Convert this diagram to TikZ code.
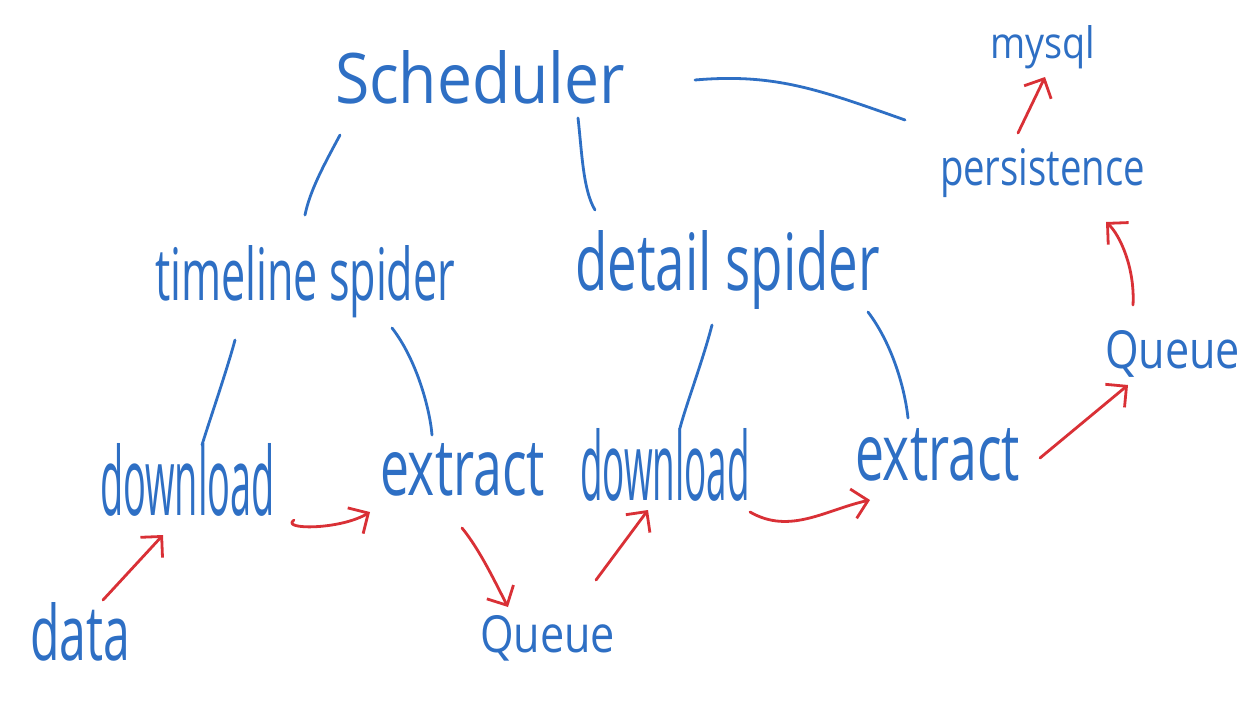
\documentclass[tikz,border=0pt]{standalone}
\usepackage{fontspec}
\setmainfont{Open Sans}
\usetikzlibrary{arrows.meta}
\definecolor{inkblue}{HTML}{2E6FC4}
\definecolor{inkred}{HTML}{D93036}
\tikzset{
  word/.style={anchor=base west, inner sep=0pt, outer sep=0pt, text=inkblue},
  link/.style={draw=inkblue, line width=2.8pt, line cap=round},
  flow/.style={draw=inkred, line width=2.8pt, line cap=round, line join=round,
    -{Straight Barb[length=15pt,width=30pt,line width=2.8pt]}},
}
\newcommand{\hw}[3]{\resizebox{#1pt}{#2pt}{#3}}
\begin{document}
\begin{tikzpicture}[x=1pt,y=-1pt]
\useasboundingbox[fill=white] (0,0) rectangle (1246,707);
% nodes
\node[word] (sched) at (335,103) {\hw{290}{53}{Scheduler}};
\node[word] (mysql) at (990,58) {\hw{105}{33}{mysql}};
\node[word] (pers) at (940,185) {\hw{205}{37}{persistence}};
\node[word] (tl) at (155,300) {\hw{300}{55}{timeline spider}};
\node[word] (ds) at (575,290) {\hw{305}{60}{detail spider}};
\node[word] (q2) at (1105,368) {\hw{135}{38}{Queue}};
\node[word] (dl1) at (100,515) {\hw{175}{72}{download}};
\node[word] (ex1) at (380,495) {\hw{165}{52}{extract}};
\node[word] (dl2) at (580,500) {\hw{170}{72}{download}};
\node[word] (ex2) at (855,480) {\hw{165}{52}{extract}};
\node[word] (data) at (30,660) {\hw{100}{58}{data}};
\node[word] (q1) at (480,652) {\hw{135}{37}{Queue}};
% blue links
\draw[link] ([shift={(5,32)}]sched.base west) .. controls ([shift={(-10,60)}]sched.base west) and ([shift={(155,-110)}]tl.base west) .. ([shift={(150,-85)}]tl.base west);
\draw[link] ([shift={(243,15)}]sched.base west) .. controls ([shift={(247,50)}]sched.base west) and ([shift={(8,-100)}]ds.base west) .. ([shift={(20,-80)}]ds.base west);
\draw[link] ([shift={(360,-23)}]sched.base west) .. controls ([shift={(440,-30)}]sched.base west) and ([shift={(-120,-95)}]pers.base west) .. ([shift={(-35,-65)}]pers.base west);
\draw[link] ([shift={(80,40)}]tl.base west) .. controls ([shift={(72,70)}]tl.base west) and ([shift={(108,-90)}]dl1.base west) .. ([shift={(102,-70)}]dl1.base west);
\draw[link] ([shift={(237,28)}]tl.base west) .. controls ([shift={(262,60)}]tl.base west) and ([shift={(50,-85)}]ex1.base west) .. ([shift={(52,-60)}]ex1.base west);
\draw[link] ([shift={(137,35)}]ds.base west) .. controls ([shift={(128,70)}]ds.base west) and ([shift={(106,-95)}]dl2.base west) .. ([shift={(100,-72)}]dl2.base west);
\draw[link] ([shift={(293,22)}]ds.base west) .. controls ([shift={(318,55)}]ds.base west) and ([shift={(50,-90)}]ex2.base west) .. ([shift={(53,-62)}]ex2.base west);
% red flows
\draw[flow] ([shift={(73,-60)}]data.base west) -- ([shift={(63,20)}]dl1.base west);
\draw[flow] ([shift={(194,5)}]dl1.base west) .. controls ([shift={(180,15)}]dl1.base west) and ([shift={(-40,35)}]ex1.base west) .. ([shift={(-10,17)}]ex1.base west);
\draw[flow] ([shift={(82,33)}]ex1.base west) .. controls ([shift={(100,55)}]ex1.base west) and ([shift={(15,-70)}]q1.base west) .. ([shift={(28,-45)}]q1.base west);
\draw[flow] ([shift={(116,-72)}]q1.base west) -- ([shift={(68,10)}]dl2.base west);
\draw[flow] ([shift={(170,12)}]dl2.base west) .. controls ([shift={(210,35)}]dl2.base west) and ([shift={(-30,30)}]ex2.base west) .. ([shift={(15,20)}]ex2.base west);
\draw[flow] ([shift={(185,-22)}]ex2.base west) -- ([shift={(23,17)}]q2.base west);
\draw[flow] ([shift={(28,-63)}]q2.base west) .. controls ([shift={(30,-100)}]q2.base west) and ([shift={(180,50)}]pers.base west) .. ([shift={(166,37)}]pers.base west);
\draw[flow] ([shift={(78,-52)}]pers.base west) -- ([shift={(55,19)}]mysql.base west);
\end{tikzpicture}
\end{document}
